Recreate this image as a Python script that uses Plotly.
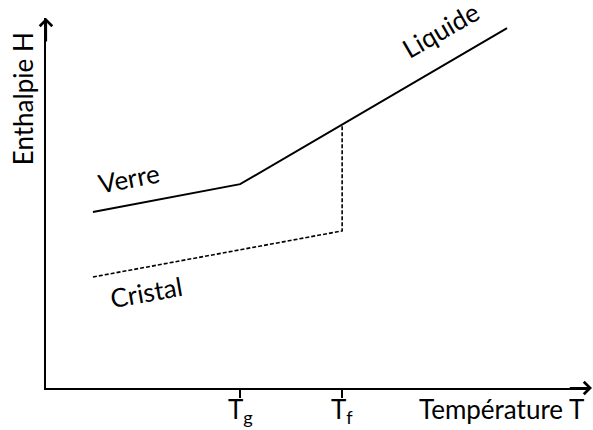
import plotly.graph_objects as go

# Schematic values (arbitrary units)
T_verre_liquide = [1.38, 5.71, 13.56]
H_verre_liquide = [5.23, 6.06, 10.70]
T_cristal = [1.38, 8.71, 8.71]
H_cristal = [3.30, 4.67, 7.82]
tick_vals = [5.71, 8.71]
tick_text = ["T<sub>g</sub>", "T<sub>f</sub>"]

FONT = "Lato"
FS = 26
X_MAX, Y_MAX = 16, 11

fig = go.Figure()
fig.add_trace(go.Scatter(x=T_verre_liquide, y=H_verre_liquide, mode="lines",
                         line=dict(color="black", width=2), showlegend=False,
                         hoverinfo="skip"))
fig.add_trace(go.Scatter(x=T_cristal, y=H_cristal, mode="lines",
                         line=dict(color="black", width=1.6, dash="4px,2px"),
                         showlegend=False, hoverinfo="skip"))

labels = [
    ("Verre", 2.45, 6.25, -11),
    ("Cristal", 2.95, 2.86, -10),
    ("Liquide", 11.6, 10.64, -30),
]
annotations = []
for txt, x, y, ang in labels:
    annotations.append(dict(text=txt, x=x, y=y, xref="x", yref="y", showarrow=False,
                            textangle=ang, font=dict(family=FONT, size=FS, color="black")))

# tick labels (placed under the tick marks)
for v, t in zip(tick_vals, tick_text):
    annotations.append(dict(text=t, x=v, y=-0.008, xref="x", yref="paper",
                            xanchor="center", yanchor="top", showarrow=False,
                            font=dict(family=FONT, size=FS, color="black")))

annotations.append(dict(text="Température T", x=0.838, y=-0.008, xref="paper", yref="paper",
                        xanchor="center", yanchor="top", showarrow=False,
                        font=dict(family=FONT, size=FS, color="black")))
annotations.append(dict(text="Enthalpie H", x=-0.042, y=0.781, xref="paper", yref="paper",
                        xanchor="center", yanchor="middle", showarrow=False, textangle=-90,
                        font=dict(family=FONT, size=FS, color="black")))
# axis arrowheads
annotations.append(dict(x=1.006, y=0, ax=-25, ay=0, xref="paper", yref="paper",
                        text="", showarrow=True, arrowhead=4,
                        arrowsize=1.1, arrowwidth=2.2, arrowcolor="black"))
annotations.append(dict(x=0, y=1.0, ax=0, ay=25, xref="paper", yref="paper",
                        text="", showarrow=True, arrowhead=4,
                        arrowsize=1.1, arrowwidth=2.2, arrowcolor="black"))

fig.update_layout(
    width=593, height=430,
    margin=dict(l=46, r=3, t=18, b=42, autoexpand=False),
    paper_bgcolor="white", plot_bgcolor="white",
    annotations=annotations,
    xaxis=dict(range=[0, X_MAX], showgrid=False, zeroline=False, showline=True,
               linecolor="black", linewidth=2.2, ticks="outside", ticklen=8,
               tickwidth=1.5, tickcolor="black", tickvals=tick_vals,
               showticklabels=False, automargin=False),
    yaxis=dict(range=[0, Y_MAX], showgrid=False, zeroline=False, showline=True,
               linecolor="black", linewidth=2.2, showticklabels=False, ticks="",
               automargin=False),
)

fig.write_html("out.html", config={"displayModeBar": False},
               post_script="document.body.style.margin='0';")
